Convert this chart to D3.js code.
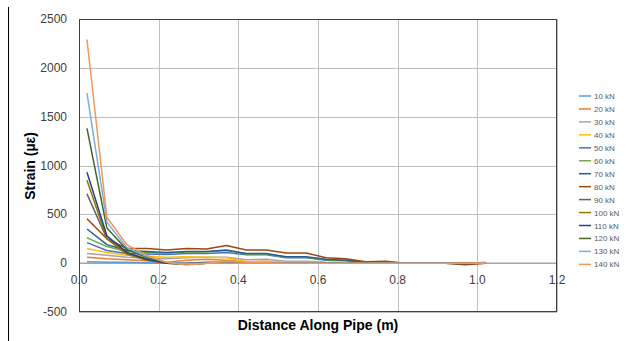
<!DOCTYPE html>
<html><head><meta charset="utf-8">
<script src="https://cdnjs.cloudflare.com/ajax/libs/d3/7.8.5/d3.min.js"></script>
<style>body{margin:0;background:#fff;}svg{display:block;font-family:"Liberation Sans","Open Sans",Arial,sans-serif;}</style>
</head><body>
<svg id="c" width="627" height="341"></svg>
<script>
const distance = [0.02,0.07,0.12,0.17,0.22,0.27,0.32,0.37,0.42,0.47,0.52,0.57,0.62,0.67,0.72,0.77,0.82,0.87,0.92,0.97,1.02];
const seriesNames = ["10 kN","20 kN","30 kN","40 kN","50 kN","60 kN","70 kN","80 kN","90 kN","100 kN","110 kN","120 kN","130 kN","140 kN"];
const colors = ["#5B9BD5","#ED7D31","#A5A5A5","#FFC000","#4472C4","#70AD47","#255E91","#9E480E","#636363","#997300","#264478","#43682B","#7CAFDD","#F1975A"];
const s10  = [15,10,10,5,0,0,5,5,0,0,0,0,0,0,0,0,0,0,0,-10,0];
const s20  = [60,45,35,25,10,30,40,30,15,20,5,5,0,0,0,0,0,0,0,-5,10];
const s30  = [100,80,60,50,45,55,60,60,35,40,20,20,10,5,0,0,0,0,0,0,0];
const s40  = [150,110,80,70,60,65,60,55,15,15,10,10,5,0,0,0,0,0,0,0,0];
const s50  = [210,130,100,95,90,100,100,110,85,85,55,55,30,25,10,5,0,0,0,0,0];
const s60  = [260,170,120,110,100,115,115,130,95,95,60,60,35,30,10,10,0,0,0,0,0];
const s70  = [350,190,130,120,110,120,120,135,100,100,65,65,40,30,10,10,0,0,0,0,0];
const s80  = [455,250,150,150,135,150,145,180,135,135,105,105,55,45,15,20,0,0,0,-15,0];
const s90  = [710,250,100,40,5,0,10,10,5,0,0,0,0,0,0,0,0,0,0,0,0];
const s100 = [850,250,90,30,0,-10,0,5,0,0,0,0,0,0,0,0,0,0,0,0,0];
const s110 = [930,280,110,40,0,-10,0,0,0,0,0,0,0,0,0,0,0,0,0,0,0];
const s120 = [1380,360,140,60,5,-10,0,0,0,0,0,0,0,0,0,0,0,0,0,0,0];
const s130 = [1740,420,160,70,10,-5,0,0,0,0,0,0,0,0,0,0,0,0,0,0,0];
const s140 = [2290,470,190,80,10,-20,0,20,10,5,0,0,0,0,0,0,0,0,0,0,5];
const allSeries = [s10,s20,s30,s40,s50,s60,s70,s80,s90,s100,s110,s120,s130,s140];
const xTicks = [0,0.2,0.4,0.6,0.8,1.0,1.2];
const yTicks = [-500,0,500,1000,1500,2000,2500];

const svg = d3.select("#c");
const L=79, R=557, T=19, B=312;
const x = d3.scaleLinear().domain([0,1.2]).range([L,R]);
const y = d3.scaleLinear().domain([-500,2500]).range([B,T]);

// outer frame line
svg.append("line").attr("x1",8.5).attr("x2",8.5).attr("y1",7).attr("y2",341).attr("stroke","#000").attr("stroke-width",1);

// gridlines
svg.append("g").selectAll("line").data(yTicks).join("line")
  .attr("x1",L).attr("x2",R).attr("y1",d=>Math.round(y(d))+0.5).attr("y2",d=>Math.round(y(d))+0.5)
  .attr("stroke","#bfbfbf").attr("stroke-width",1);
svg.append("g").selectAll("line").data(xTicks).join("line")
  .attr("y1",T).attr("y2",B).attr("x1",d=>Math.round(x(d))+0.5).attr("x2",d=>Math.round(x(d))+0.5)
  .attr("stroke","#bfbfbf").attr("stroke-width",1);

// zero axis
svg.append("line").attr("x1",L).attr("x2",R).attr("y1",y(0)).attr("y2",y(0)).attr("stroke","#a6a6a6").attr("stroke-width",1.5);

// plot border
svg.append("rect").attr("x",L+0.5).attr("y",T+0.5).attr("width",R-L-1).attr("height",B-T-1)
  .attr("fill","none").attr("stroke","#404040").attr("stroke-width",1);

// y tick labels
svg.append("g").selectAll("text").data(yTicks).join("text")
  .attr("x",67).attr("y",d=>y(d)+4).attr("text-anchor","end")
  .attr("font-size",12).attr("fill","#404040").text(d=>d);

// x tick labels
svg.append("g").selectAll("text").data(xTicks).join("text")
  .attr("x",d=>x(d)).attr("y",y(0)+21).attr("text-anchor","middle")
  .attr("font-size",12).attr("fill","#404040").text(d=>d.toFixed(1));

// lines
const line = d3.line().x((d,i)=>x(distance[i])).y(d=>y(d));
svg.append("g").selectAll("path").data(allSeries).join("path")
  .attr("d",d=>line(d)).attr("fill","none")
  .attr("stroke",(d,i)=>colors[i]).attr("stroke-width",1.5).attr("stroke-linejoin","round");

// axis titles
svg.append("text").attr("transform","translate(35,166) rotate(-90)").attr("text-anchor","middle")
  .attr("font-size",14).attr("font-weight","bold").attr("fill","#000").text("Strain (µε)");
svg.append("text").attr("x",318).attr("y",330).attr("text-anchor","middle")
  .attr("font-size",14).attr("font-weight","bold").attr("fill","#000").text("Distance Along Pipe (m)");

// legend
const lg = svg.append("g").selectAll("g").data(seriesNames).join("g")
  .attr("transform",(d,i)=>`translate(579,${96+i*12.95})`);
lg.append("line").attr("x1",0).attr("x2",12).attr("y1",0).attr("y2",0)
  .attr("stroke",(d,i)=>colors[i]).attr("stroke-width",1.5);
lg.append("text").attr("x",15).attr("y",3).attr("font-size",8).attr("fill","#595959").text(d=>d);
</script>
</body></html>
